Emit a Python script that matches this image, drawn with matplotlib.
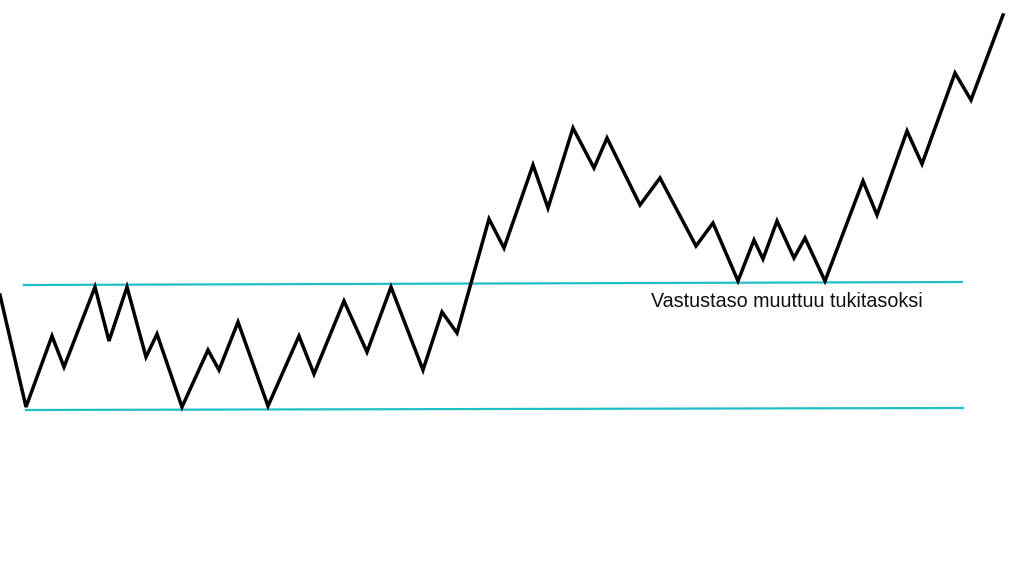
import matplotlib.pyplot as plt

# price path vertices (x, y in image units, y grows downward)
price_x = [0, 26, 52, 64, 95, 109, 127, 146, 157, 182, 208, 219, 238, 268,
           299, 314, 344, 367, 391, 423, 442, 457, 489, 504, 533, 548, 573,
           594, 607, 640, 660, 696, 713, 738, 754, 763, 777, 794, 805, 825,
           863, 877, 907, 922, 955, 971, 1003]
price_y = [295, 407, 336, 367, 287, 341, 287, 357, 334, 407, 350, 370, 322, 406,
           336, 374, 301, 352, 287, 370, 312, 333, 219, 248, 165, 208, 128,
           168, 138, 205, 178, 246, 223, 281, 240, 259, 221, 258, 238, 281,
           181, 215, 131, 164, 73, 100, 15]

# resistance / support levels
resistance_x = [24, 962]
resistance_y = [285, 282]
support_x = [26, 963]
support_y = [410, 408]

label_text = "Vastustaso muuttuu tukitasoksi"
label_pos = (651, 307)

fig = plt.figure(figsize=(10.24, 5.76), dpi=100)
ax = fig.add_axes([0, 0, 1, 1])
ax.set_xlim(0, 1024)
ax.set_ylim(576, 0)
ax.axis('off')

ax.plot(resistance_x, resistance_y, color='#1fbfc6', linewidth=1.6)
ax.plot(support_x, support_y, color='#1fbfc6', linewidth=1.6)
ax.plot(price_x, price_y, color='black', linewidth=2.5,
        solid_joinstyle='miter')

ax.text(label_pos[0], label_pos[1], label_text, fontsize=14.2,
        family='Liberation Sans', color='#111111', va='baseline', ha='left')

fig.savefig('out.png', dpi=100, facecolor='white')
